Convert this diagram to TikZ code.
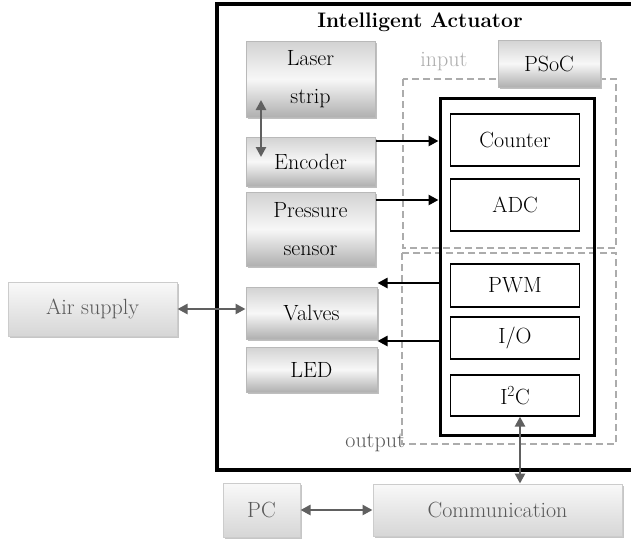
\documentclass[tikz,border=0pt]{standalone}
\usetikzlibrary{arrows.meta,shadows,calc}
\begin{document}
\begin{tikzpicture}[x=1pt,y=-1pt,
  txt/.style={font=\fontsize{22}{38}\selectfont},
  darkbox/.style={draw=gray!55,line width=1pt,txt,align=center,inner sep=0pt,
    top color=gray!35,bottom color=gray!62,middle color=gray!6,
    drop shadow={shadow xshift=1.5pt,shadow yshift=-1.5pt,fill=gray!50,opacity=1}},
  lightbox/.style={draw=gray!40,line width=1pt,txt,text=gray!70!black,inner sep=0pt,
    top color=gray!5,bottom color=gray!32,
    drop shadow={shadow xshift=1.5pt,shadow yshift=-1.5pt,fill=gray!45,opacity=1}},
  modbox/.style={draw=black,line width=1.3pt,fill=white,txt,inner sep=0pt,minimum width=129pt},
  blk/.style={line width=2.8pt,-{Triangle[length=10pt,width=10pt]}},
  gry/.style={line width=2.8pt,draw=gray!75!black,{Triangle[length=10pt,width=10pt]}-{Triangle[length=10pt,width=10pt]}},
  dsh/.style={draw=gray!65,line width=1.6pt,dash pattern=on 7pt off 4pt}
]
\useasboundingbox (0,0) rectangle (631,544);
\fill[white] (0,0) rectangle (631,544);
% outer box
\draw[line width=4pt] (217,4) rectangle (640,470);
\node[font=\bfseries\fontsize{21}{24}\selectfont] (title) at (420,22) {Intelligent Actuator};
% dashed regions
\draw[dsh] (403,79) rectangle (616,248);
\draw[dsh] (402,253) rectangle (616,444);
\node[txt,text=gray!65,inner sep=0pt] (inlab) at (444,62) {input};
\node[txt,text=gray!70!black,anchor=east,inner sep=0pt] (outlab) at (405,443) {output};
% left boxes
\node[darkbox,minimum width=129pt,minimum height=76pt] (laser) at (310.5,79) {Laser\\strip};
\node[darkbox,minimum width=129pt,minimum height=49pt] (enc) at (310.5,161.5) {Encoder};
\node[darkbox,minimum width=129pt,minimum height=74pt] (press) at (310.5,229) {Pressure\\sensor};
\node[darkbox,minimum width=131pt,minimum height=52pt] (valves) at (311.5,313) {Valves};
\node[darkbox,minimum width=131pt,minimum height=45pt] (led) at (311.5,369.5) {LED};
% external boxes
\node[lightbox,minimum width=169pt,minimum height=54pt] (air) at (92.5,309) {Air supply};
\node[lightbox,minimum width=77pt,minimum height=54pt] (pc) at (261.5,510) {PC};
\node[lightbox,minimum width=249pt,minimum height=52pt] (comm) at (497.5,510) {Communication};
% PSoC
\node[darkbox,minimum width=102pt,minimum height=47pt] (psoclab) at (549,63.5) {PSoC};
\node[draw=black,line width=3pt,minimum width=154pt,minimum height=337pt,inner sep=0pt] (psoc) at (517,266.5) {};
\node[modbox,minimum height=52pt] (counter) at (515,140) {Counter};
\node[modbox,minimum height=52pt] (adc) at (515,205) {ADC};
\node[modbox,minimum height=43pt] (pwm) at (515,285.5) {PWM};
\node[modbox,minimum height=42pt] (io) at (515,338) {I/O};
\node[modbox,minimum height=41pt] (i2c) at (515,395.5) {I\textsuperscript{2}C};
% connectors
\draw[blk] (enc.east |- 0,141) -- (psoc.west |- 0,141);
\draw[blk] (press.east |- 0,200) -- (psoc.west |- 0,200);
\draw[blk] (psoc.west |- 0,283) -- (valves.east |- 0,283);
\draw[blk] (psoc.west |- 0,341) -- (valves.east |- 0,341);
\draw[gry] (261,100) coordinate (la) -- (261,157) coordinate (lb);
\draw[gry] (air.east) -- (valves.west |- air.east);
\draw[gry] (pc.east) -- (comm.west);
\draw[gry] (i2c.south -| 520,0) -- (comm.north -| 520,0);
\end{tikzpicture}
\end{document}
